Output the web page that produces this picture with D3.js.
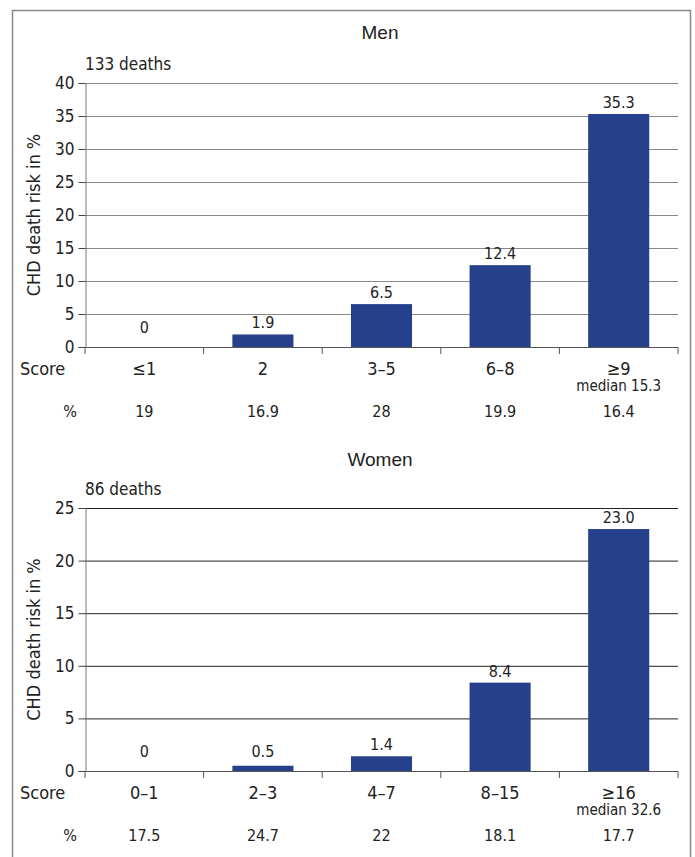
<!DOCTYPE html>
<html>
<head>
<meta charset="utf-8">
<script src="https://cdn.jsdelivr.net/npm/d3@7"></script>
<style>
  body { margin: 0; background: #fff; }
  text { fill: #222; }
</style>
</head>
<body>
<div id="chart"></div>
<script>
const WIDTH = 695;
const HEIGHT = 857;
const FONT = "'Liberation Sans Narrow', 'DejaVu Sans Condensed', 'Liberation Sans', sans-serif";
const BAR_COLOR = "#27408b";

// Men
const menScores = ["≤1", "2", "3–5", "6–8", "≥9"];
const menRisk = [0, 1.9, 6.5, 12.4, 35.3];
const menRiskLabels = ["0", "1.9", "6.5", "12.4", "35.3"];
const menShare = ["19", "16.9", "28", "19.9", "16.4"];
const menTicks = [0, 5, 10, 15, 20, 25, 30, 35, 40];

// Women
const womenScores = ["0–1", "2–3", "4–7", "8–15", "≥16"];
const womenRisk = [0, 0.5, 1.4, 8.4, 23.0];
const womenRiskLabels = ["0", "0.5", "1.4", "8.4", "23.0"];
const womenShare = ["17.5", "24.7", "22", "18.1", "17.7"];
const womenTicks = [0, 5, 10, 15, 20, 25];

const svg = d3.select("#chart").append("svg")
    .attr("width", WIDTH)
    .attr("height", HEIGHT);

// frame (no bottom edge)
svg.append("path")
    .attr("d", "M12.5,857 V10.5 H690.5 V857")
    .attr("fill", "none")
    .attr("stroke", "#888")
    .attr("stroke-width", 1.5);

function panel(opt) {
    const left = 85, right = 678;
    const x = d3.scaleBand().domain(opt.scores).range([left, right]).paddingInner(0.485).paddingOuter(0.2425);
    const xb = d3.scaleBand().domain(opt.scores).range([left, right]);
    const y = d3.scaleLinear().domain([0, opt.max]).range([opt.y0, opt.yTop]);

    const g = svg.append("g");

    g.append("text")
        .attr("x", 380).attr("y", opt.titleY)
        .attr("text-anchor", "middle")
        .style("font-family", "'Liberation Sans', Arial, sans-serif")
        .style("font-size", "19px")
        .text(opt.title);

    g.append("text")
        .attr("x", left).attr("y", opt.yTop - 13)
        .style("font-family", FONT)
        .style("font-size", "17px")
        .text(opt.deaths);

    // gridlines
    g.selectAll("line.grid").data(opt.ticks.filter(d => d > 0)).enter()
        .append("line")
        .attr("x1", left).attr("x2", right)
        .attr("y1", d => y(d) + 0.5).attr("y2", d => y(d) + 0.5)
        .attr("stroke", opt.gridColor)
        .attr("stroke-width", 1);

    // y axis
    const yAxis = g.append("g")
        .attr("transform", `translate(${left + 0.5},0)`)
        .call(d3.axisLeft(y).tickValues(opt.ticks).tickSize(7).tickPadding(4));
    yAxis.select(".domain").attr("stroke", "#777");
    yAxis.selectAll(".tick line").attr("stroke", "#444");
    yAxis.selectAll(".tick text")
        .style("font-family", FONT)
        .style("font-size", "17px")
        .attr("fill", "#222");

    // bars
    g.selectAll("rect.bar").data(opt.risk).enter()
        .append("rect")
        .attr("x", (d, i) => x(opt.scores[i]))
        .attr("width", x.bandwidth())
        .attr("y", d => y(d))
        .attr("height", d => y(0) - y(d))
        .attr("fill", BAR_COLOR);

    g.selectAll("text.val").data(opt.risk).enter()
        .append("text")
        .attr("x", (d, i) => x(opt.scores[i]) + x.bandwidth() / 2)
        .attr("y", d => Math.min(y(d) - 6, y(0) - 14))
        .attr("text-anchor", "middle")
        .style("font-family", FONT)
        .style("font-size", "16px")
        .text((d, i) => opt.riskLabels[i]);

    // x axis with category ticks at band edges
    g.append("line")
        .attr("x1", left).attr("x2", right)
        .attr("y1", y(0) + 0.5).attr("y2", y(0) + 0.5)
        .attr("stroke", "#555");
    const edges = opt.scores.map(s => xb(s)).concat([right]);
    g.selectAll("line.xt").data(edges).enter()
        .append("line")
        .attr("x1", d => d).attr("x2", d => d)
        .attr("y1", y(0)).attr("y2", y(0) + 7)
        .attr("stroke", "#555");

    const scoreY = y(0) + 28;
    g.append("text")
        .attr("x", 20).attr("y", scoreY)
        .style("font-family", FONT)
        .style("font-size", "18px")
        .text("Score");
    g.selectAll("text.score").data(opt.scores).enter()
        .append("text")
        .attr("x", d => xb(d) + xb.bandwidth() / 2)
        .attr("y", scoreY)
        .attr("text-anchor", "middle")
        .style("font-family", FONT)
        .style("font-size", "18px")
        .text(d => d);
    g.append("text")
        .attr("x", xb(opt.scores[4]) + xb.bandwidth() / 2)
        .attr("y", scoreY + 16)
        .attr("text-anchor", "middle")
        .style("font-family", FONT)
        .style("font-size", "15px")
        .text(opt.median);

    const pctY = y(0) + 70;
    g.append("text")
        .attr("x", 70).attr("y", pctY)
        .attr("text-anchor", "middle")
        .style("font-family", FONT)
        .style("font-size", "16px")
        .text("%");
    g.selectAll("text.pct").data(opt.share).enter()
        .append("text")
        .attr("x", (d, i) => xb(opt.scores[i]) + xb.bandwidth() / 2)
        .attr("y", pctY)
        .attr("text-anchor", "middle")
        .style("font-family", FONT)
        .style("font-size", "16px")
        .text(d => d);

    // y label
    g.append("text")
        .attr("transform", `translate(40,${(opt.y0 + opt.yTop) / 2}) rotate(-90)`)
        .attr("text-anchor", "middle")
        .style("font-family", FONT)
        .style("font-size", "18px")
        .text("CHD death risk in %");
}

panel({
    title: "Men", titleY: 39, deaths: "133 deaths",
    scores: menScores, risk: menRisk, riskLabels: menRiskLabels, share: menShare,
    ticks: menTicks, max: 40, y0: 347, yTop: 83, gridColor: "#888",
    median: "median 15.3"
});

panel({
    title: "Women", titleY: 466, deaths: "86 deaths",
    scores: womenScores, risk: womenRisk, riskLabels: womenRiskLabels, share: womenShare,
    ticks: womenTicks, max: 25, y0: 771, yTop: 508, gridColor: "#222",
    median: "median 32.6"
});
</script>
</body>
</html>
